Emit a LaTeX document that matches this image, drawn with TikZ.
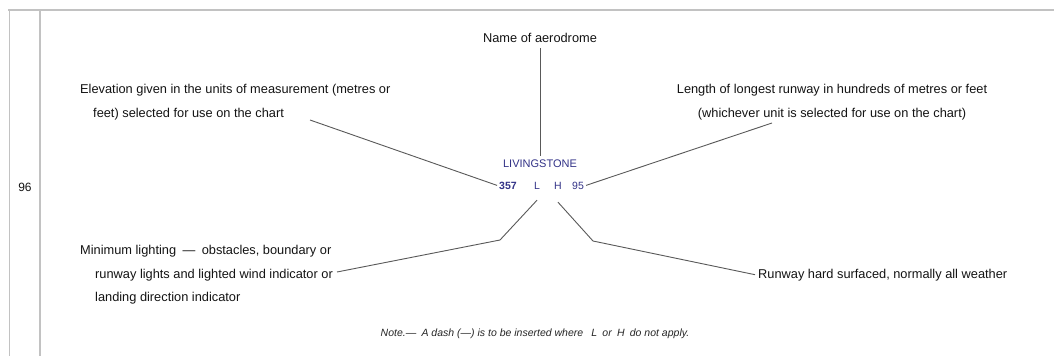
\documentclass[tikz,border=0pt]{standalone}
\usepackage{fontspec}
\setmainfont{Liberation Sans}
\begin{document}
\begin{tikzpicture}[x=1pt,y=-1pt,
  framerule/.style={draw=black!24,line width=1.8pt},
  leader/.style={draw=black!65,line width=0.9pt},
  label/.style={inner sep=0pt,font=\fontsize{12.8}{23.5}\selectfont,text=black!92},
  chart/.style={inner sep=0pt,text={rgb,255:red,50;green,50;blue,135}},
  notetext/.style={inner sep=0pt,font=\fontsize{10.5}{12}\selectfont\itshape,text=black!85}]
\useasboundingbox (0,0) rectangle (1054,356);
\fill[white] (0,0) rectangle (1054,356);

% table rules
\draw[framerule] (8,10) -- (1054,10);
\draw[framerule] (9.5,10) -- (9.5,356);
\draw[framerule] (40,10) -- (40,356);
\node[label,font=\fontsize{12}{14}\selectfont,anchor=base] (rownum) at (25,191) {96};

% chart symbol
\node[chart,anchor=base,font=\fontsize{11}{13}\selectfont] (aero) at (540,167) {LIVINGSTONE};
\node[chart,anchor=base,font=\fontsize{10.5}{12}\selectfont\bfseries] (elevnum) at (508,189) {357};
\node[chart,anchor=base,font=\fontsize{10.5}{12}\selectfont] (lightL) at (537,189) {L};
\node[chart,anchor=base,font=\fontsize{10.5}{12}\selectfont] (hardH) at (558,189) {H};
\node[chart,anchor=base,font=\fontsize{10.5}{12}\selectfont] (rwylen) at (578,189) {95};

% explanatory labels
\node[label,anchor=base] (title) at (540,42) {Name of aerodrome};
\node[label,anchor=north west,align=left] (elev) at (80,84.5)
  {Elevation given in the units of measurement (metres or\\
   \hspace*{13pt}feet) selected for use on the chart};
\node[label,anchor=north,align=center] (len) at (832,84.5)
  {Length of longest runway in hundreds of metres or feet\\
   (whichever unit is selected for use on the chart)};
\node[label,anchor=north west,align=left] (minl) at (80,245.5)
  {Minimum lighting\,\,\,---\,\,\,obstacles, boundary or\\
   \hspace*{15pt}runway lights and lighted wind indicator or\\
   \hspace*{15pt}landing direction indicator};
\node[label,anchor=base west] (runway) at (758,278) {Runway hard surfaced, normally all weather};
\node[notetext,anchor=base] (note) at (535,336)
  {Note.---\enspace A dash (---) is to be inserted where \enspace L\enspace or\enspace H\enspace do not apply.};

% leader ends and bends
\coordinate (elevtail) at (310,120);
\coordinate (lentail) at (772,123);
\coordinate (minlbend) at (500,240);
\coordinate (minltail) at (337,272);
\coordinate (rwybend) at (593,241);

% leaders
\draw[leader,shorten <=6pt,shorten >=3pt] (title.south) -- (aero.north);
\draw[leader] (elevtail) -- ([xshift=-2pt]elevnum.west);
\draw[leader] ([xshift=2pt]rwylen.east) -- (lentail);
\draw[leader] ([yshift=-11pt]lightL.south) -- (minlbend) -- (minltail);
\draw[leader] ([yshift=-13pt]hardH.south) -- (rwybend) -- ([xshift=-3pt]runway.west);
\end{tikzpicture}
\end{document}
